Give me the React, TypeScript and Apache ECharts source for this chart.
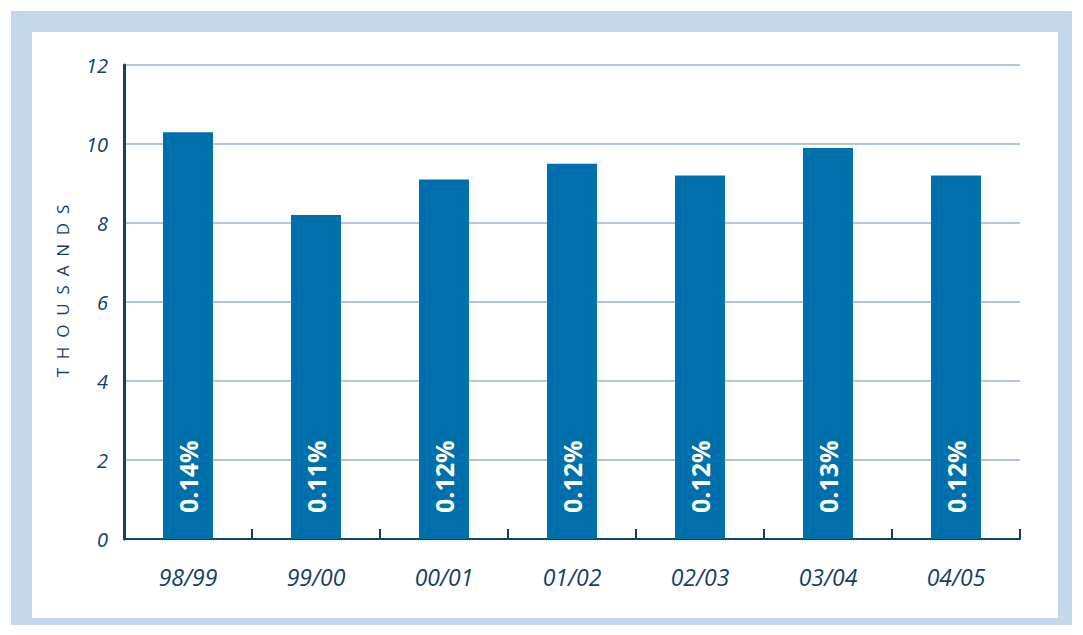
import React, { useEffect, useRef } from "react";
import * as echarts from "echarts";

const categories = ["98/99", "99/00", "00/01", "01/02", "02/03", "03/04", "04/05"];
const values = [10.3, 8.2, 9.1, 9.5, 9.2, 9.9, 9.2];
const percentLabels = ["0.14%", "0.11%", "0.12%", "0.12%", "0.12%", "0.13%", "0.12%"];
const yTicks = { min: 0, max: 12, interval: 2 };
const axisName = "T  H  O  U  S  A  N  D  S";

const NAVY = "#163e66";
const FONT = "'Open Sans', 'Noto Sans', sans-serif";

export default function App() {
  const ref = useRef<HTMLDivElement>(null);
  useEffect(() => {
    if (!ref.current) return;
    const chart = echarts.init(ref.current, undefined, { renderer: "svg" });
    chart.setOption({
      animation: false,
      backgroundColor: "#ffffff",
      graphic: [
        { type: "rect", z: -10, shape: { x: 11, y: 11, width: 1061, height: 614 }, style: { fill: "#c3d8ea" } },
        { type: "rect", z: -9, shape: { x: 32, y: 32, width: 1026, height: 586 }, style: { fill: "#ffffff" } },
        {
          type: "text",
          x: 62,
          y: 291,
          rotation: Math.PI / 2,
          style: {
            text: axisName,
            fill: NAVY,
            font: `17px ${FONT}`,
            align: "center",
            verticalAlign: "middle",
          },
        },
      ],
      grid: { left: 124, right: 63, top: 65, bottom: 96 },
      xAxis: {
        type: "category",
        data: categories,
        axisLine: { show: true, lineStyle: { color: NAVY, width: 2 } },
        axisTick: { show: true, inside: true, length: 10, lineStyle: { color: NAVY, width: 2 } },
        axisLabel: { color: NAVY, fontSize: 23, fontStyle: "italic", fontFamily: FONT, margin: 26 },
        splitLine: { show: false },
      },
      yAxis: {
        type: "value",
        min: yTicks.min,
        max: yTicks.max,
        interval: yTicks.interval,
        axisLine: { show: true, lineStyle: { color: NAVY, width: 3 } },
        axisTick: { show: false },
        axisLabel: { color: NAVY, fontSize: 20, fontStyle: "italic", fontFamily: FONT, margin: 16 },
        splitLine: { show: true, lineStyle: { color: "#9db2c6", width: 1.5 } },
      },
      series: [
        {
          type: "bar",
          data: values,
          barWidth: 50,
          itemStyle: { color: "#0070ad" },
          label: {
            show: true,
            position: "insideBottom",
            rotate: 90,
            align: "left",
            verticalAlign: "middle",
            distance: 26,
            color: "#ffffff",
            fontSize: 25,
            fontWeight: "bold",
            fontFamily: FONT,
            formatter: (p: any) => percentLabels[p.dataIndex],
          },
        },
      ],
    });
    return () => chart.dispose();
  }, []);
  return (
    <div
      ref={ref}
      style={{ position: "fixed", left: 0, top: 0, width: 1083, height: 635 }}
    />
  );
}
